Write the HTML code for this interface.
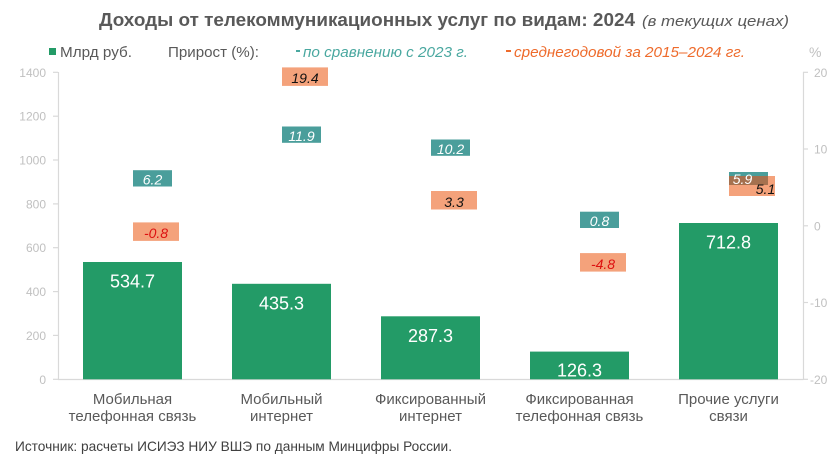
<!DOCTYPE html>
<html><head><meta charset="utf-8"><style>
html,body{margin:0;padding:0;background:#fff;}
svg{display:block;font-family:"Liberation Sans",Arial,sans-serif;}
</style></head><body>
<svg width="840" height="462" viewBox="0 0 840 462" xmlns="http://www.w3.org/2000/svg">
<rect width="840" height="462" fill="#fff"/>
<!-- Title -->
<text x="99" y="26" font-size="18" font-weight="bold" fill="#595959" textLength="536" lengthAdjust="spacingAndGlyphs">Доходы от телекоммуникационных услуг по видам: 2024</text>
<text x="642" y="26" font-size="15" font-style="italic" fill="#595959" textLength="147" lengthAdjust="spacingAndGlyphs">(в текущих ценах)</text>
<!-- Legend -->
<rect x="49" y="48" width="7" height="7" fill="#239b67"/>
<text x="60" y="57" font-size="15" fill="#595959" textLength="72" lengthAdjust="spacingAndGlyphs">Млрд руб.</text>
<text x="168" y="57" font-size="15" fill="#595959" textLength="91" lengthAdjust="spacingAndGlyphs">Прирост (%):</text>
<rect x="296" y="50" width="4" height="2" fill="#4aa8a0"/>
<text x="303" y="57" font-size="15" font-style="italic" fill="#4aa8a0" textLength="165" lengthAdjust="spacingAndGlyphs">по сравнению с 2023 г.</text>
<rect x="506" y="50" width="5" height="2" fill="#ee6b2c"/>
<text x="514" y="57" font-size="15" font-style="italic" fill="#ee6b2c" textLength="231" lengthAdjust="spacingAndGlyphs">среднегодовой за 2015–2024 гг.</text>
<text x="809" y="57" font-size="14" fill="#c0c0c0">%</text>
<!-- Axes -->
<g stroke="#d9d9d9" stroke-width="1.2" fill="none">
<line x1="58.5" y1="72" x2="58.5" y2="379.5"/>
<line x1="58" y1="379.5" x2="803.5" y2="379.5"/>
<line x1="803.5" y1="72" x2="803.5" y2="379.5"/>
<line x1="53" y1="72.3" x2="58" y2="72.3"/>
<line x1="53" y1="116.2" x2="58" y2="116.2"/>
<line x1="53" y1="160" x2="58" y2="160"/>
<line x1="53" y1="203.9" x2="58" y2="203.9"/>
<line x1="53" y1="247.7" x2="58" y2="247.7"/>
<line x1="53" y1="291.6" x2="58" y2="291.6"/>
<line x1="53" y1="335.4" x2="58" y2="335.4"/>
<line x1="53" y1="379.3" x2="58" y2="379.3"/>
<line x1="803" y1="72.3" x2="808" y2="72.3"/>
<line x1="803" y1="149" x2="808" y2="149"/>
<line x1="803" y1="225.8" x2="808" y2="225.8"/>
<line x1="803" y1="302.5" x2="808" y2="302.5"/>
<line x1="803" y1="379.3" x2="808" y2="379.3"/>
</g>
<g font-size="12" fill="#c0c0c0" text-anchor="end">
<text x="46" y="76.8">1400</text>
<text x="46" y="120.7">1200</text>
<text x="46" y="164.5">1000</text>
<text x="46" y="208.4">800</text>
<text x="46" y="252.2">600</text>
<text x="46" y="296.1">400</text>
<text x="46" y="339.9">200</text>
<text x="46" y="383.8">0</text>
</g>
<g font-size="12" fill="#c0c0c0">
<text x="814" y="76.8">20</text>
<text x="814" y="153.5">10</text>
<text x="814" y="230.3">0</text>
<text x="810" y="307">-10</text>
<text x="810" y="383.8">-20</text>
</g>
<!-- Bars -->
<g fill="#239b67">
<rect x="83" y="262" width="99" height="117.3"/>
<rect x="232" y="283.8" width="99" height="95.5"/>
<rect x="381" y="316.3" width="99" height="63"/>
<rect x="530" y="351.6" width="99" height="27.7"/>
<rect x="679" y="223" width="99" height="156.3"/>
</g>
<g font-size="18" fill="#fff" text-anchor="middle">
<text x="132.5" y="287.5">534.7</text>
<text x="281.5" y="309.3">435.3</text>
<text x="430.5" y="341.8">287.3</text>
<text x="579.5" y="376.5">126.3</text>
<text x="728.5" y="248.5">712.8</text>
</g>
<!-- Growth boxes: teal -->
<g fill="#4a9e9b">
<rect x="133" y="170.2" width="39" height="16.3"/>
<rect x="282" y="126.5" width="39" height="16.3"/>
<rect x="431" y="139.5" width="39" height="16.3"/>
<rect x="580" y="211.7" width="39" height="16.3"/>
</g>
<!-- orange -->
<g fill="#f4a27b">
<rect x="133" y="222.4" width="46" height="18.5"/>
<rect x="282" y="67.4" width="46" height="18.5"/>
<rect x="431" y="191" width="46" height="18.5"/>
<rect x="580" y="253.1" width="46" height="18.5"/>
</g>
<!-- cat 5 overlapping -->
<rect x="729" y="172" width="39" height="5" fill="#4a9e9b"/>
<rect x="729" y="176" width="46" height="20" fill="#f4a27b"/>
<rect x="729" y="176" width="39" height="9" fill="#a5714f"/>
<g font-size="14" font-style="italic" text-anchor="middle">
<text x="152.5" y="184.5" fill="#fff">6.2</text>
<text x="301.5" y="140.8" fill="#fff">11.9</text>
<text x="450.5" y="153.8" fill="#fff">10.2</text>
<text x="599.5" y="226" fill="#fff">0.8</text>
<text x="156" y="238.2" fill="#dd1111">-0.8</text>
<text x="305" y="83.2" fill="#111">19.4</text>
<text x="454" y="206.8" fill="#111">3.3</text>
<text x="603" y="268.9" fill="#dd1111">-4.8</text>
<text x="742.5" y="184" fill="#fff">5.9</text>
<text x="765.5" y="194" fill="#111">5.1</text>
</g>
<!-- Category labels -->
<g font-size="15" fill="#595959" text-anchor="middle">
<text x="132.5" y="404">Мобильная</text>
<text x="132.5" y="421">телефонная связь</text>
<text x="281.5" y="404">Мобильный</text>
<text x="281.5" y="421">интернет</text>
<text x="430.5" y="404">Фиксированный</text>
<text x="430.5" y="421">интернет</text>
<text x="579.5" y="404">Фиксированная</text>
<text x="579.5" y="421">телефонная связь</text>
<text x="728.5" y="404">Прочие услуги</text>
<text x="728.5" y="421">связи</text>
</g>
<text x="15" y="451" font-size="14" fill="#404040" textLength="437" lengthAdjust="spacingAndGlyphs">Источник: расчеты ИСИЭЗ НИУ ВШЭ по данным Минцифры России.</text>
</svg>
</body></html>
